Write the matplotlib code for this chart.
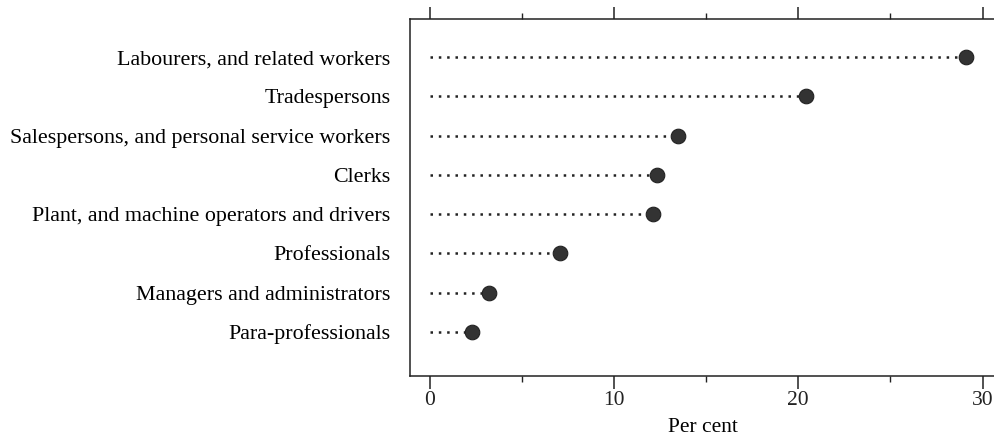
import matplotlib
matplotlib.use("Agg")
import matplotlib.pyplot as plt
from matplotlib.ticker import MultipleLocator

categories = [
    "Labourers, and related workers",
    "Tradespersons",
    "Salespersons, and personal service workers",
    "Clerks",
    "Plant, and machine operators and drivers",
    "Professionals",
    "Managers and administrators",
    "Para-professionals",
]
values = [29.1, 20.4, 13.5, 12.35, 12.1, 7.1, 3.2, 2.3]
xticks = [0, 10, 20, 30]
xlabel = "Per cent"

plt.rcParams["font.family"] = ["Liberation Serif", "DejaVu Serif"]

fig = plt.figure(figsize=(9.95, 4.37), dpi=100)
ax = fig.add_axes([410 / 995, (437 - 376) / 437, 1 - 410 / 995, (376 - 19) / 437])

n = len(categories)
ys = list(range(n - 1, -1, -1))
for y, v in zip(ys, values):
    ax.plot([0, v], [y, y], linestyle=(0, (1, 2.33)), color="#222222", linewidth=1.8,
            dash_capstyle="butt", zorder=1)
ax.plot(values, ys, "o", color="#333333", markersize=10.5, markeredgecolor="#222222",
        markeredgewidth=0.8, zorder=2)

ax.set_xlim(-1.06, 30.67)
ax.set_ylim(-1.12, n - 1 + 0.97)
ax.set_yticks(ys)
ax.set_yticklabels(categories, fontsize=15.8)
ax.tick_params(axis="y", length=0, pad=14)

ax.xaxis.set_minor_locator(MultipleLocator(5))
ax.set_xticks(xticks)
ax.tick_params(axis="x", which="major", length=9, width=1.1, direction="out",
               top=True, labelsize=15.5, pad=2, colors="#222222")
ax.tick_params(axis="x", which="minor", length=4.5, width=1.0, direction="out",
               top=True, colors="#222222")
ax.set_xlabel(xlabel, fontsize=15.5, labelpad=5.5)

ax.spines["right"].set_visible(False)
for s in ["left", "top", "bottom"]:
    ax.spines[s].set_linewidth(1.1)
    ax.spines[s].set_color("#222222")

fig.savefig("out.png", dpi=100)
